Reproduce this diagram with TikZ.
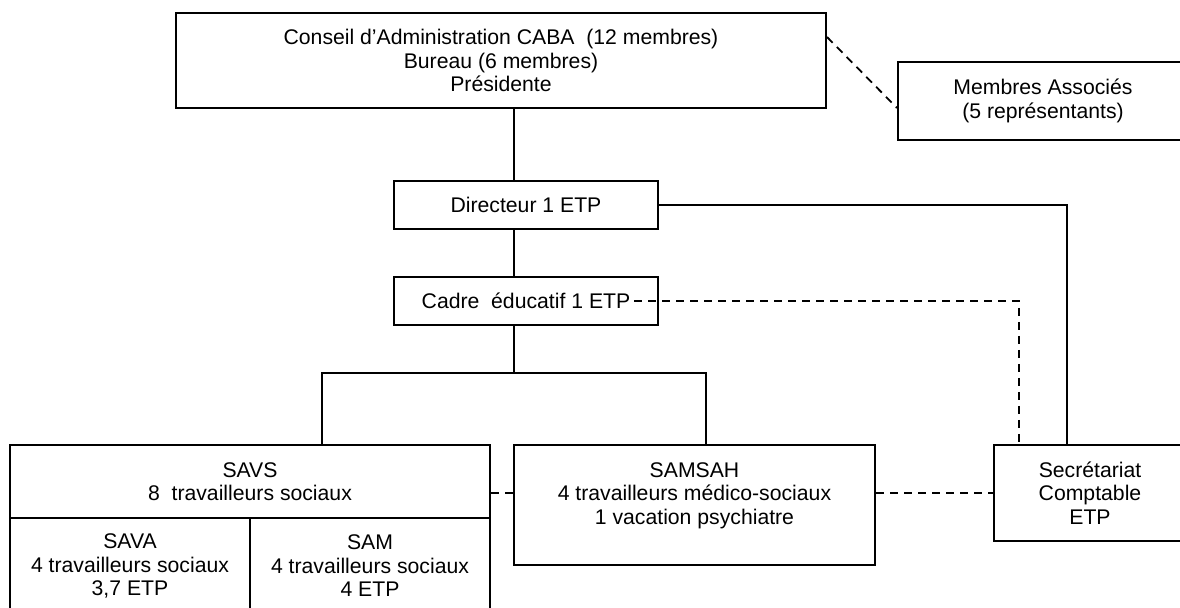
\documentclass[tikz,border=0pt]{standalone}
\usepackage{fontspec}
\setmainfont{Liberation Sans}
\usetikzlibrary{calc}

\begin{document}
\begin{tikzpicture}[x=0.5pt,y=-0.5pt,
	boite/.style={draw,line width=1pt,rectangle,inner sep=0pt,align=center,
		font=\fontsize{10.6}{11.75}\selectfont},
	lien/.style={line width=0.9pt},
	tirets/.style={line width=0.9pt,dash pattern=on 4pt off 3pt}]
	\useasboundingbox (0,0) rectangle (1180,608);

	% boites
	\node[boite,minimum width=325pt,minimum height=47.5pt] (conseil) at (501,60.5)
		{Conseil d’Administration CABA~ (12 membres)\\Bureau (6 membres)\\Présidente};
	\node[boite,minimum width=145pt,minimum height=39pt] (membres) at (1043,101)
		{Membres Associés\\(5 représentants)};
	\node[boite,minimum width=132pt,minimum height=24pt] (directeur) at (526,205)
		{Directeur 1 ETP};
	\node[boite,minimum width=132pt,minimum height=24pt] (cadre) at (526,301)
		{Cadre~ éducatif 1 ETP};
	\node[boite,minimum width=240pt,minimum height=36.5pt] (savs) at (250,481.5)
		{SAVS\\8~ travailleurs sociaux};
	\node[boite,minimum width=120pt,minimum height=48pt] (sava) at (130,566)
		{SAVA\\4 travailleurs sociaux\\3,7 ETP};
	\node[boite,minimum width=120pt,minimum height=48pt] (sam) at (370,566)
		{SAM\\4 travailleurs sociaux\\4 ETP};
	\node[boite,minimum width=180.5pt,minimum height=60pt] (samsah) at (694.5,505)
		{SAMSAH\\4 travailleurs médico-sociaux\\1 vacation psychiatre\\~};
	\node[boite,minimum width=96pt,minimum height=48pt] (secretariat) at (1090,493)
		{Secrétariat\\Comptable\\ETP};

	% liaisons
	\coordinate (axe) at (514,0);
	\coordinate (gauche) at (322,373);
	\coordinate (droite) at (706,373);
	\coordinate (coinD) at (1067,205);
	\coordinate (coinC) at (1019,301);

	\draw[lien] (conseil.south -| axe) -- (directeur.north -| axe);
	\draw[lien] (directeur.south -| axe) -- (cadre.north -| axe);
	\draw[lien] (cadre.south -| axe) -- (gauche -| axe);
	\draw[lien] (savs.north -| gauche) -- (gauche) -- (droite) -- (samsah.north -| droite);
	\draw[lien] (directeur.east) -- (coinD) -- (secretariat.north -| coinD);

	\draw[tirets] ([xshift=-12.5pt]cadre.east) -- (coinC) -- (secretariat.north -| coinC);
	\draw[tirets] ([yshift=11.75pt]conseil.east) -- ([yshift=-3.5pt]membres.west);
	\draw[tirets] (savs.east |- secretariat.west) -- (samsah.west |- secretariat.west);
	\draw[tirets] (samsah.east |- secretariat.west) -- (secretariat.west);
\end{tikzpicture}
\end{document}
